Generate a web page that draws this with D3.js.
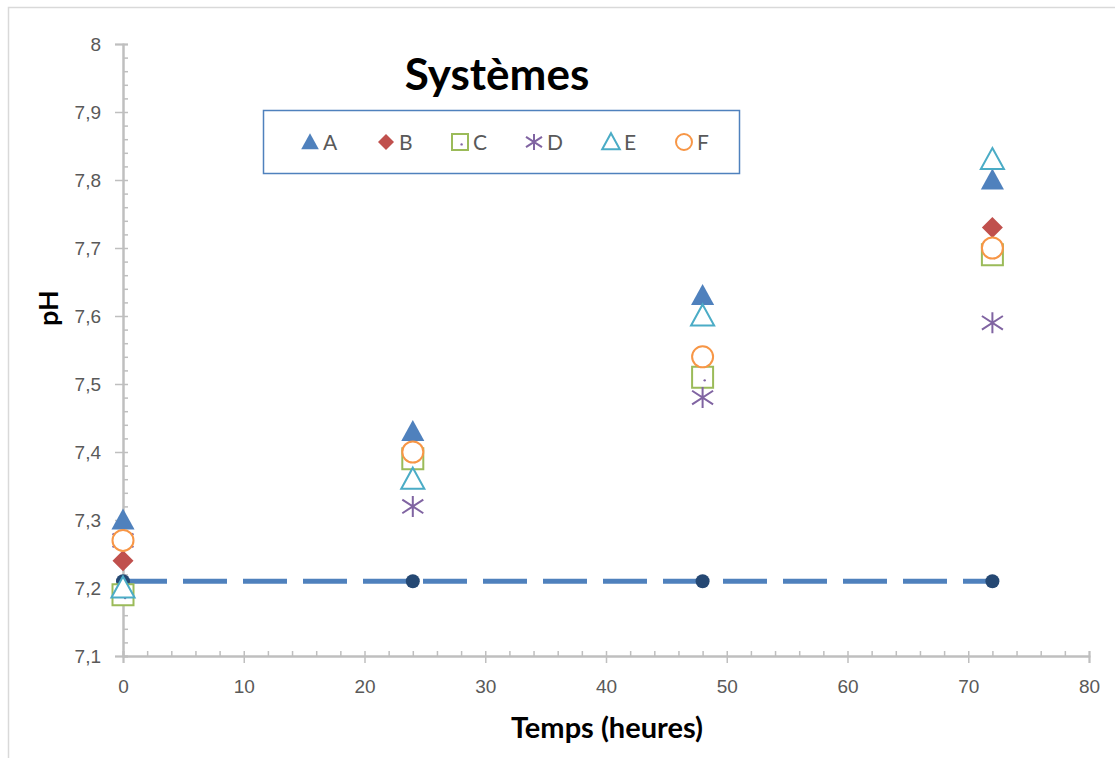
<!DOCTYPE html>
<html>
<head>
<meta charset="utf-8">
<script src="https://cdn.jsdelivr.net/npm/d3@7"></script>
<style>
    body { margin: 0; background: #fff; }
    svg { display: block; font-family: Lato, "Open Sans", sans-serif; }
</style>
</head>
<body>
<div id="chart"></div>
<script>
// hours of measurement
const hours = [0, 24, 48, 72];

// pH per system (null = not visible on the chart)
const seriesA = [7.30, 7.43, 7.63, 7.80];
const seriesB = [7.24, null, null, 7.73];
const seriesC = [7.19, 7.39, 7.51, 7.69];
const seriesD = [7.27, 7.32, 7.48, 7.59];
const seriesE = [7.20, 7.36, 7.60, 7.83];
const seriesF = [7.27, 7.40, 7.54, 7.70];
// reference level (dashed)
const reference = [7.21, 7.21, 7.21, 7.21];

const seriesNames = ['A', 'B', 'C', 'D', 'E', 'F'];
const xTicks = [0, 10, 20, 30, 40, 50, 60, 70, 80];
const yTicks = [7.1, 7.2, 7.3, 7.4, 7.5, 7.6, 7.7, 7.8, 7.9, 8];

const width = 1115, height = 758;

const svg = d3.select('#chart').append('svg')
    .attr('width', width)
    .attr('height', height);

// chart area border (only left/top visible)
svg.append('path')
    .attr('d', 'M8.5,' + height + 'V7.5H' + width)
    .attr('fill', 'none')
    .attr('stroke', '#d9d9d9')
    .attr('stroke-width', 1.5);

const x = d3.scaleLinear().domain([0, 80]).range([123, 1089]);
const y = d3.scaleLinear().domain([7.1, 8]).range([656, 44]);

const fr = d3.formatLocale({ decimal: ',', thousands: ' ', grouping: [3], currency: ['', ' €'] });
const fmt = fr.format('.1~f');

const axisColor = '#bfbfbf';
const labelColor = '#595959';

function styleAxis(g) {
    g.select('.domain').attr('stroke', axisColor).attr('stroke-width', 2);
    g.selectAll('.tick line').attr('stroke', axisColor).attr('stroke-width', 1.5);
    g.selectAll('.tick text').attr('fill', labelColor).style('font-size', '19px');
}

// Y axis: minor ticks inward, majors crossing
svg.append('g')
    .attr('transform', `translate(${x(0)},0)`)
    .call(d3.axisRight(y).tickValues(d3.range(7.1, 8.001, 0.02)).tickSize(5).tickFormat(''))
    .call(styleAxis);
svg.append('g')
    .attr('transform', `translate(${x(0)},0)`)
    .call(d3.axisLeft(y).tickValues(yTicks).tickSize(8).tickPadding(14).tickFormat(fmt))
    .call(styleAxis);

// X axis
svg.append('g')
    .attr('transform', `translate(0,${y(7.1)})`)
    .call(d3.axisTop(x).tickValues(d3.range(0, 81, 2)).tickSize(5).tickFormat(''))
    .call(styleAxis);
svg.append('g')
    .attr('transform', `translate(0,${y(7.1)})`)
    .call(d3.axisBottom(x).tickValues(xTicks).tickSize(7).tickPadding(17).tickFormat(fmt))
    .call(styleAxis);

// marker shapes
const shapes = {
    triangle: s => `M0,${-s * 0.55}L${s * 0.55},${s * 0.45}L${-s * 0.55},${s * 0.45}Z`,
    diamond: s => `M0,${-s / 2}L${s / 2},0L0,${s / 2}L${-s / 2},0Z`,
    square: s => `M${-s / 2},${-s / 2}H${s / 2}V${s / 2}H${-s / 2}Z`,
    star: s => {
        const h = s / 2;
        return `M0,${-h}V${h}M${-h},${-h * 0.65}L${h},${h * 0.65}M${-h},${h * 0.65}L${h},${-h * 0.65}`;
    },
    circle: s => d3.arc()({ innerRadius: 0, outerRadius: s / 2, startAngle: 0, endAngle: 2 * Math.PI })
};

// open markers keep a white inside, as in the reference
const styles = [
    { shape: 'triangle', fill: '#4f81bd', stroke: 'none', sw: 0 },
    { shape: 'diamond', fill: '#c0504d', stroke: 'none', sw: 0 },
    { shape: 'square', fill: '#fff', stroke: '#9bbb59', sw: 2 },
    { shape: 'star', fill: 'none', stroke: '#8064a2', sw: 2 },
    { shape: 'triangle', fill: '#fff', stroke: '#4bacc6', sw: 2 },
    { shape: 'circle', fill: '#fff', stroke: '#f79646', sw: 2 }
];

function drawMarker(g, st, size) {
    g.append('path')
        .attr('d', shapes[st.shape](size))
        .attr('fill', st.fill)
        .attr('stroke', st.stroke)
        .attr('stroke-width', st.sw);
    if (st.shape === 'square') {
        g.append('circle').attr('cx', size * 0.1).attr('cy', size * 0.15).attr('r', 1.2).attr('fill', '#8064a2');
    }
}

// reference dashed line with dark markers
const refData = hours.map((h, i) => ({ h, v: reference[i] }));
svg.append('path')
    .datum(refData)
    .attr('fill', 'none')
    .attr('stroke', '#4f81bd')
    .attr('stroke-width', 5)
    .attr('stroke-dasharray', '44,16')
    .attr('d', d3.line().x(d => x(d.h)).y(d => y(d.v)));
svg.selectAll('.refpt')
    .data(refData)
    .enter().append('circle')
    .attr('class', 'refpt')
    .attr('cx', d => x(d.h))
    .attr('cy', d => y(d.v))
    .attr('r', 7)
    .attr('fill', '#254873');

// series points
const allSeries = [seriesA, seriesB, seriesC, seriesD, seriesE, seriesF];
allSeries.forEach((vals, si) => {
    const pts = vals.map((v, i) => ({ h: hours[i], v })).filter(d => d.v != null);
    svg.append('g').selectAll('g')
        .data(pts)
        .enter().append('g')
        .attr('transform', d => `translate(${x(d.h)},${y(d.v)})`)
        .each(function () { drawMarker(d3.select(this), styles[si], 21); });
});

// title
svg.append('text')
    .attr('x', 497)
    .attr('y', 90)
    .attr('text-anchor', 'middle')
    .style('font-size', '44px')
    .style('font-weight', 'bold')
    .attr('fill', '#000')
    .text('Systèmes');

// legend
svg.append('rect')
    .attr('x', 263.5).attr('y', 110.5)
    .attr('width', 476).attr('height', 63)
    .attr('fill', '#fff')
    .attr('stroke', '#4f81bd')
    .attr('stroke-width', 1.5);

const legendX = [310, 386, 460, 534, 611, 684];
seriesNames.forEach((name, i) => {
    const g = svg.append('g').attr('transform', `translate(${legendX[i]},142)`);
    drawMarker(g, styles[i], 16);
    g.append('text')
        .attr('x', 13)
        .attr('dy', '0.36em')
        .attr('fill', labelColor)
        .style('font-size', '21px')
        .text(name);
});

// axis titles
svg.append('text')
    .attr('x', 607)
    .attr('y', 738)
    .attr('text-anchor', 'middle')
    .style('font-size', '29px')
    .style('font-weight', 'bold')
    .text('Temps (heures)');

svg.append('text')
    .attr('transform', 'translate(58,308) rotate(-90)')
    .attr('text-anchor', 'middle')
    .style('font-size', '27px')
    .style('font-weight', 'bold')
    .text('pH');
</script>
</body>
</html>
